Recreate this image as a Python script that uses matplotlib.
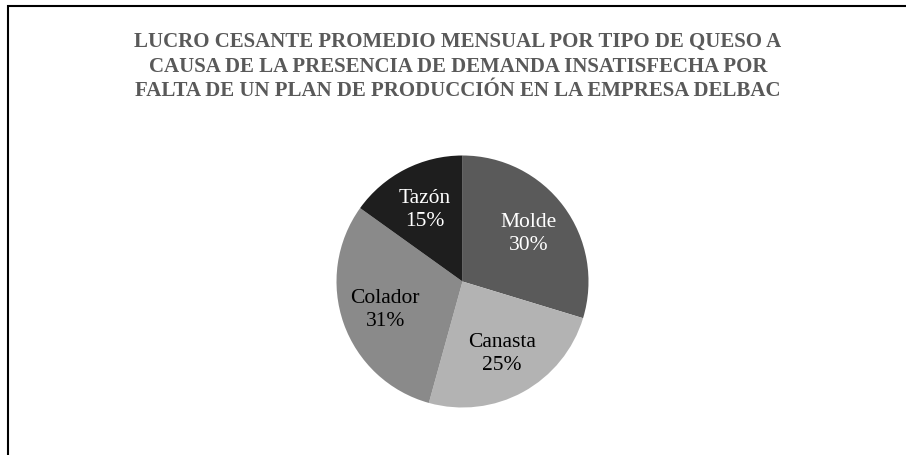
import matplotlib
matplotlib.use("Agg")
import matplotlib.pyplot as plt
from matplotlib.patches import Rectangle

categories = ["Molde", "Canasta", "Colador", "Tazón"]
values = [29.7, 24.6, 30.6, 15.1]
colors = ["#5a5a5a", "#b3b3b3", "#8a8a8a", "#1e1e1e"]
label_colors = ["white", "black", "black", "white"]
title = ("LUCRO CESANTE PROMEDIO MENSUAL POR TIPO DE QUESO A\n"
         "CAUSA DE LA PRESENCIA DE DEMANDA INSATISFECHA POR\n"
         "FALTA DE UN PLAN DE PRODUCCIÓN EN LA EMPRESA DELBAC")

W, H = 906, 456
fig = plt.figure(figsize=(W / 100, H / 100), dpi=100)
plt.rcParams['font.family'] = ['Liberation Serif', 'DejaVu Serif']

# frame
fig.patches.append(Rectangle((8 / W, -0.05), 1.0, 1.05 - 6.5 / H,
                             transform=fig.transFigure, fill=False,
                             edgecolor="black", linewidth=1.5))

cx, cy, r = 462.5, 282.5, 126
ax = fig.add_axes([(cx - r) / W, (H - cy - r) / H, 2 * r / W, 2 * r / H])

total = sum(values)

def fmt(p):
    return ""

wedges, _, autotexts = ax.pie(values, colors=colors, startangle=90,
                              counterclock=False, radius=1,
                              autopct=fmt, pctdistance=0.65,
                              wedgeprops=dict(linewidth=0))
for w, t, cat, v, c in zip(wedges, autotexts, categories, values, label_colors):
    t.set_text(f"{cat}\n{round(v / total * 100):.0f}%")
    t.set_color(c)
    t.set_fontsize(15.5)
    t.set_linespacing(1.3)
ax.set_xlim(-1, 1)
ax.set_ylim(-1, 1)
ax.set_aspect("equal")

fig.text(458 / W, 1 - 66.5 / H, title, ha="center", va="center",
         fontsize=15, fontweight="bold", color="#595959",
         linespacing=1.32)

fig.savefig("out.png", dpi=100)
